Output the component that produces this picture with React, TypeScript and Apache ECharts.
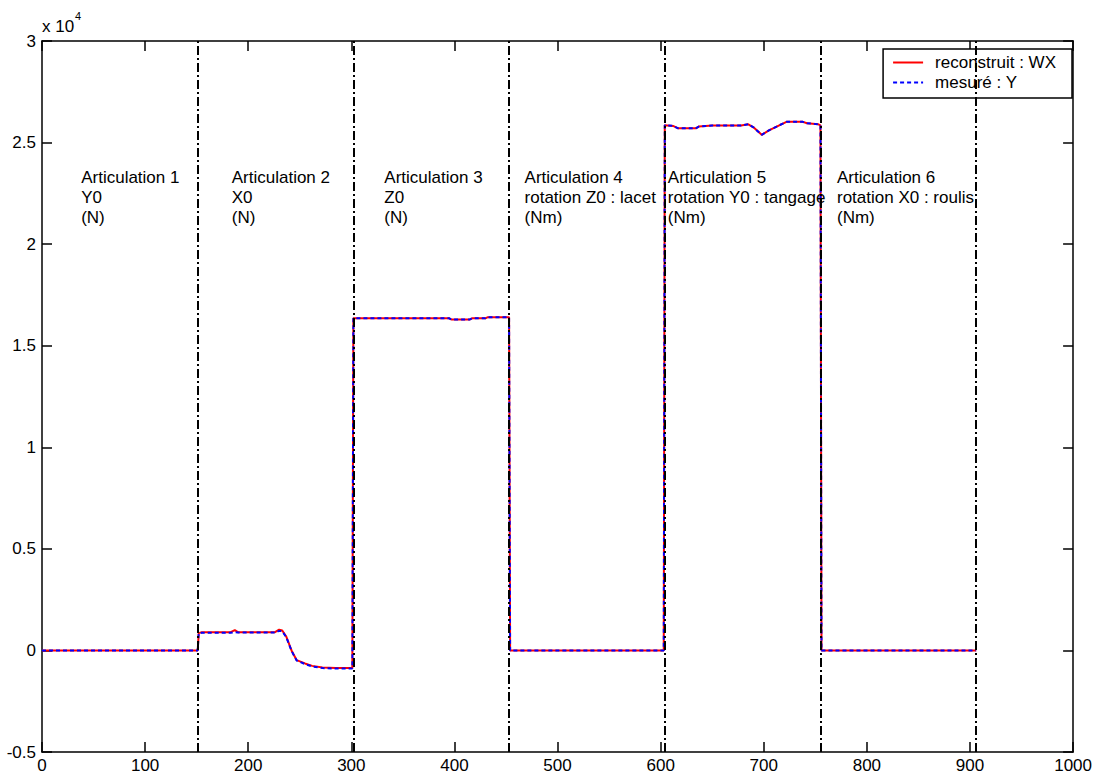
import React, { useEffect, useRef } from "react";
import * as echarts from "echarts";

// Sample index (x) and values in units of 1e4
const sampleX = [
  0, 151,
  152, 155, 183, 187, 190, 226, 230, 233, 237, 242, 247, 255, 262, 272, 285, 301,
  302, 395, 397, 415, 417, 430, 432, 453,
  454, 603,
  604, 612, 617, 634, 637, 650, 678, 685, 690, 698, 705, 715, 722, 738, 742, 753, 755,
  756, 906,
];
const reconstruitWX = [
  0, 0,
  0.085, 0.09, 0.09, 0.1, 0.09, 0.09, 0.102, 0.098, 0.067, 0.0, -0.048, -0.064, -0.076, -0.084, -0.086, -0.086,
  1.635, 1.635, 1.629, 1.629, 1.635, 1.635, 1.64, 1.64,
  0, 0,
  2.585, 2.582, 2.57, 2.57, 2.579, 2.584, 2.584, 2.59, 2.575, 2.538, 2.56, 2.585, 2.602, 2.602, 2.595, 2.59, 2.585,
  0, 0,
];
const mesureY = [
  0, 0,
  0.085, 0.087, 0.087, 0.09, 0.088, 0.088, 0.096, 0.095, 0.064, -0.002, -0.05, -0.067, -0.079, -0.087, -0.089, -0.089,
  1.635, 1.635, 1.629, 1.629, 1.635, 1.635, 1.64, 1.64,
  0, 0,
  2.585, 2.582, 2.57, 2.57, 2.579, 2.584, 2.584, 2.59, 2.575, 2.538, 2.56, 2.585, 2.602, 2.602, 2.595, 2.59, 2.585,
  0, 0,
];
const boundaries = [151, 302, 453, 604, 755, 906];
const seriesNames = ["reconstruit : WX", "mesuré : Y"];
const annotationTexts = [
  ["Articulation 1", "Y0", "(N)"],
  ["Articulation 2", "X0", "(N)"],
  ["Articulation 3", "Z0", "(N)"],
  ["Articulation 4", "rotation Z0 : lacet", "(Nm)"],
  ["Articulation 5", "rotation Y0 : tangage", "(Nm)"],
  ["Articulation 6", "rotation X0 : roulis", "(Nm)"],
];
// annotation anchor positions (data coords)
const annotationX = [38, 184, 332, 468, 607, 771];
const annotationY = 2.33;

const FONT = '"Liberation Sans", Arial, Helvetica, sans-serif';

export default function App() {
  const ref = useRef<HTMLDivElement>(null);
  useEffect(() => {
    document.body.style.margin = "0";
    const chart = echarts.init(ref.current!, null, { renderer: "svg" });
    const axisCommon = {
      type: "value" as const,
      axisLine: { show: true, onZero: false, lineStyle: { color: "#000", width: 1.5 } },
      axisTick: { show: true, inside: true, length: 10, lineStyle: { color: "#000", width: 1.5 } },
      splitLine: { show: false },
    };
    const fmt = (v: number) => String(v);
    const redData = sampleX.map((x, i) => [x, reconstruitWX[i]]);
    const blueData = sampleX.map((x, i) => [x, mesureY[i]]);
    chart.setOption({
      animation: false,
      backgroundColor: "#fff",
      textStyle: { fontFamily: FONT },
      grid: { left: 42, right: 20, top: 41, bottom: 22 },
      xAxis: [
        {
          ...axisCommon, min: 0, max: 1000, interval: 100, position: "bottom",
          axisLabel: { color: "#000", fontSize: 17, margin: 5, fontFamily: FONT, formatter: fmt },
        },
        {
          ...axisCommon, min: 0, max: 1000, interval: 100, position: "top",
          axisLabel: { show: false },
        },
      ],
      yAxis: [
        {
          ...axisCommon, min: -0.5, max: 3, interval: 0.5, position: "left",
          axisLabel: { color: "#000", fontSize: 17, margin: 6, fontFamily: FONT, formatter: fmt },
        },
        {
          ...axisCommon, min: -0.5, max: 3, interval: 0.5, position: "right",
          axisLabel: { show: false },
        },
      ],
      legend: {
        data: seriesNames,
        orient: "vertical",
        right: 23,
        top: 49,
        backgroundColor: "#fff",
        borderColor: "#000",
        borderWidth: 1.5,
        padding: [5, 16, 7, 9],
        itemWidth: 30,
        itemHeight: 14,
        itemGap: 3,
        itemStyle: { opacity: 0 },
        textStyle: { fontSize: 17, color: "#000", fontFamily: FONT, padding: [0, 0, 0, 7] },
      },
      series: [
        {
          name: seriesNames[0], type: "line", data: redData, symbol: "none", z: 2,
          lineStyle: { color: "#ff0000", width: 2 }, itemStyle: { color: "#ff0000" },
        },
        {
          name: seriesNames[1], type: "line", data: blueData, symbol: "none", z: 3,
          lineStyle: { color: "#0000ff", width: 2, type: [4, 3] }, itemStyle: { color: "#0000ff" },
        },
        {
          name: "bounds", type: "line", data: [], z: 4, silent: true,
          markLine: {
            silent: true, symbol: "none", label: { show: false },
            lineStyle: { color: "#000", width: 2, type: [9, 3, 2, 3] },
            data: boundaries.map((b) => ({ xAxis: b })),
          },
        },
      ],
    });
    const texts = annotationTexts.map((lines, i) => {
      const px = chart.convertToPixel({ xAxisIndex: 0, yAxisIndex: 0 } as any, [annotationX[i], annotationY]) as number[];
      return {
        type: "text",
        x: px[0],
        y: px[1] - 10,
        z: 10,
        style: {
          text: lines.join("\n"),
          fontSize: 17,
          lineHeight: 20,
          fontFamily: FONT,
          fill: "#000",
          align: "left",
          verticalAlign: "top",
        },
      };
    });
    chart.setOption({
      graphic: [
        ...texts,
        {
          type: "text", x: 42, y: 26, z: 10,
          style: { text: "x 10", fontSize: 17, fontFamily: FONT, fill: "#000", verticalAlign: "middle", align: "left" },
        },
        {
          type: "text", x: 75, y: 16, z: 10,
          style: { text: "4", fontSize: 11, fontFamily: FONT, fill: "#000", verticalAlign: "middle", align: "left" },
        },
      ],
    });
    return () => chart.dispose();
  }, []);
  return <div ref={ref} style={{ width: 1095, height: 774 }} />;
}
